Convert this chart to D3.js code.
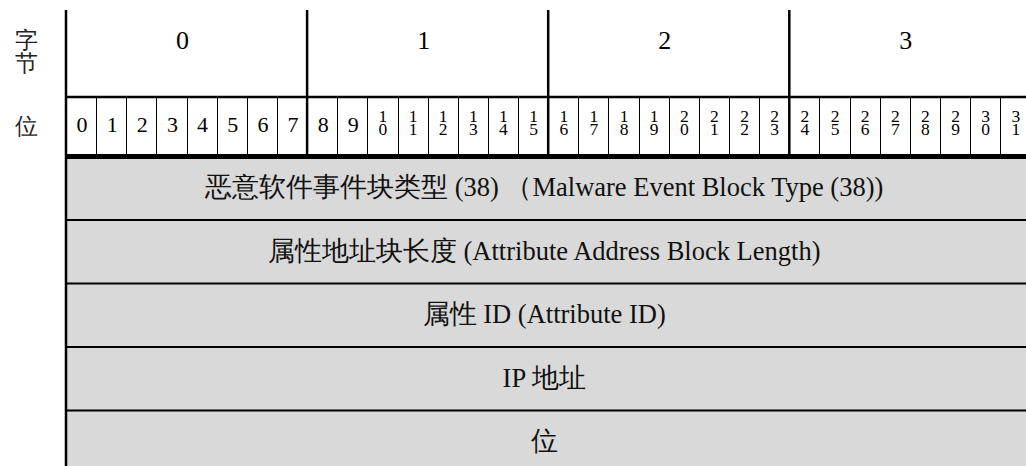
<!DOCTYPE html>
<html>
<head>
<meta charset="utf-8">
<script src="https://cdn.jsdelivr.net/npm/d3@7"></script>
</head>
<body style="margin:0;padding:0;background:#fff">
<script>
// ---- data ----
const byteLabels = ["0", "1", "2", "3"];
const bitLabels = ["0","1","2","3","4","5","6","7","8","9","10","11","12","13","14","15",
                   "16","17","18","19","20","21","22","23","24","25","26","27","28","29","30","31"];
const fieldLabels = [
  "恶意软件事件块类型 (38) （Malware Event Block Type (38))",
  "属性地址块长度 (Attribute Address Block Length)",
  "属性 ID (Attribute ID)",
  "IP 地址",
  "位"
];
const sideByteLabel = ["字", "节"];
const sideBitLabel = "位";

// ---- layout ----
const FONT = "Liberation Serif";
const W = 1026, H = 466;
const svg = d3.select("body").append("svg")
  .attr("width", W).attr("height", H).style("display", "block");

const x = d3.scaleLinear().domain([0, 32]).range([66, 1030.4]);
const yTop = 10, yByteBottom = 97, yBitBottom = 156.5;
const y = d3.scaleLinear().domain([0, fieldLabels.length])
  .range([yBitBottom, yBitBottom + 63.5 * fieldLabels.length]);

// gray field rows
svg.append("g").selectAll("rect").data(fieldLabels).join("rect")
  .attr("x", x(0)).attr("width", x(32) - x(0))
  .attr("y", (d, i) => y(i)).attr("height", (d, i) => y(i + 1) - y(i))
  .attr("fill", "#d9d9d9");

// row separators
svg.append("g").selectAll("line").data(d3.range(1, fieldLabels.length)).join("line")
  .attr("x1", x(0)).attr("x2", x(32))
  .attr("y1", d => y(d)).attr("y2", d => y(d))
  .attr("stroke", "#000").attr("stroke-width", 2);

// thin bit separators
svg.append("g").selectAll("line")
  .data(bitLabels.map((d, i) => i).filter(i => i > 0 && i % 8 !== 0)).join("line")
  .attr("x1", d => Math.round(x(d)) + 0.5).attr("x2", d => Math.round(x(d)) + 0.5)
  .attr("y1", yByteBottom).attr("y2", yBitBottom)
  .attr("stroke", "#000").attr("stroke-width", 1);

// byte separators
svg.append("g").selectAll("line").data(byteLabels.map((d, i) => (i + 1) * 8)).join("line")
  .attr("x1", d => x(d)).attr("x2", d => x(d))
  .attr("y1", yTop).attr("y2", yBitBottom)
  .attr("stroke", "#000").attr("stroke-width", 2.5);

// horizontal line between byte and bit rows
svg.append("line")
  .attr("x1", x(0)).attr("x2", x(32)).attr("y1", yByteBottom).attr("y2", yByteBottom)
  .attr("stroke", "#000").attr("stroke-width", 2.5);

// thick line below bit row
svg.append("line")
  .attr("x1", x(0)).attr("x2", x(32)).attr("y1", yBitBottom).attr("y2", yBitBottom)
  .attr("stroke", "#000").attr("stroke-width", 5);

// left vertical line
svg.append("line")
  .attr("x1", x(0)).attr("x2", x(0)).attr("y1", yTop).attr("y2", y(fieldLabels.length))
  .attr("stroke", "#000").attr("stroke-width", 2.5);

// byte labels
svg.append("g").selectAll("text").data(byteLabels).join("text")
  .attr("font-family", FONT).attr("font-size", 26).attr("fill", "#000")
  .attr("x", (d, i) => x(i * 8 + 4) - 4).attr("y", 49)
  .attr("text-anchor", "middle")
  .text(d => d);

// bit labels
const bitG = svg.append("g");
bitLabels.forEach((d, i) => {
  const cx = (x(i) + x(i + 1)) / 2;
  if (d.length === 1) {
    bitG.append("text").attr("text-anchor", "middle").attr("font-family", FONT).attr("fill", "#000")
      .attr("x", cx + 1).attr("y", 131.5).attr("font-size", 22).text(d);
  } else {
    bitG.append("text").attr("text-anchor", "middle").attr("font-family", FONT).attr("fill", "#000")
      .attr("x", cx + 0.5).attr("y", 121.5).attr("font-size", 17.5).text(d[0]);
    bitG.append("text").attr("text-anchor", "middle").attr("font-family", FONT).attr("fill", "#000")
      .attr("x", cx + 0.5).attr("y", 135).attr("font-size", 17.5).text(d[1]);
  }
});

// field labels
svg.append("g").selectAll("text").data(fieldLabels).join("text")
  .attr("font-family", FONT).attr("font-size", 26.5).attr("fill", "#111")
  .attr("x", (x(0) + x(32)) / 2 - 4)
  .attr("y", (d, i) => (y(i) + y(i + 1)) / 2 + 8)
  .attr("text-anchor", "middle")
  .text(d => d);

// side labels
svg.append("g").selectAll("text").data(sideByteLabel).join("text")
  .attr("font-family", FONT).attr("font-size", 23).attr("fill", "#222")
  .attr("x", 26).attr("y", (d, i) => 47.5 + i * 23)
  .attr("text-anchor", "middle")
  .text(d => d);
svg.append("text")
  .attr("font-family", FONT).attr("font-size", 23).attr("fill", "#222")
  .attr("x", 26).attr("y", 134)
  .attr("text-anchor", "middle")
  .text(sideBitLabel);
</script>
</body>
</html>
